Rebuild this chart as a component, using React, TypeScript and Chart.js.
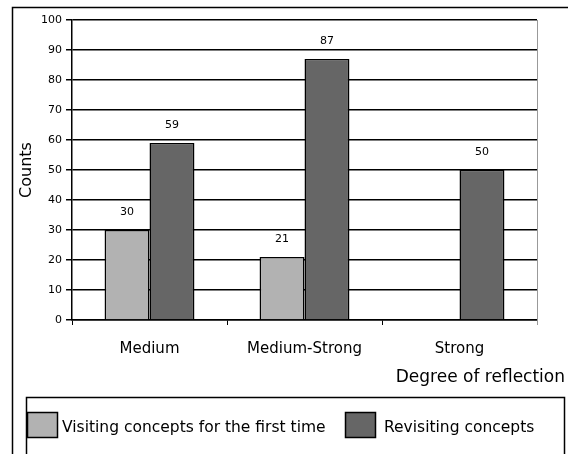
import React, { useEffect, useRef } from "react";
import { Chart, registerables } from "chart.js";

Chart.register(...registerables);

const categories = ["Medium", "Medium-Strong", "Strong"];
const firstTimeValues = [30, 21, null];
const revisitValues = [59, 87, 50];
const seriesLabels = ["Visiting concepts for the first time", "Revisiting concepts"];
const seriesColors = ["#b2b2b2", "#666666"];
const yTitle = "Counts";
const xTitle = "Degree of reflection";
const yMax = 100;
const yStep = 10;

const FONT = "'DejaVu Sans', Arial, sans-serif";

const decorPlugin = {
  id: "decor",
  beforeDraw(chart: any) {
    const ctx = chart.ctx;
    ctx.save();
    ctx.fillStyle = "#ffffff";
    ctx.fillRect(0, 0, chart.width, chart.height);
    // outer frame
    ctx.strokeStyle = "#000000";
    ctx.lineWidth = 1.5;
    ctx.strokeRect(12.5, 7.5, chart.width + 20, chart.height + 20);
    ctx.restore();
  },
  afterDraw(chart: any) {
    const ctx = chart.ctx;
    const area = chart.chartArea;
    ctx.save();
    // right border of plot area
    ctx.strokeStyle = "#999999";
    ctx.lineWidth = 1;
    ctx.beginPath();
    ctx.moveTo(Math.round(area.right) + 0.5, area.top);
    ctx.lineTo(Math.round(area.right) + 0.5, area.bottom + 5);
    ctx.stroke();

    // data labels
    ctx.fillStyle = "#000000";
    ctx.font = `11px ${FONT}`;
    ctx.textAlign = "center";
    ctx.textBaseline = "middle";
    chart.data.datasets.forEach((ds: any, di: number) => {
      const meta = chart.getDatasetMeta(di);
      meta.data.forEach((bar: any, i: number) => {
        const v = ds.data[i];
        if (v === null || v === undefined) return;
        ctx.fillText(String(v), bar.x, bar.y - 18);
      });
    });

    // y title
    ctx.save();
    ctx.font = `16px ${FONT}`;
    ctx.translate(27, 170);
    ctx.rotate(-Math.PI / 2);
    ctx.textAlign = "center";
    ctx.textBaseline = "middle";
    ctx.fillText(yTitle, 0, 0);
    ctx.restore();

    // x title
    ctx.font = `17px ${FONT}`;
    ctx.textAlign = "right";
    ctx.textBaseline = "middle";
    ctx.fillText(xTitle, 565, 378);

    // legend box
    ctx.strokeStyle = "#000000";
    ctx.lineWidth = 1.5;
    ctx.strokeRect(26.5, 397.5, 538, 80);

    // legend items
    const sw = [
      { x: 27, text: 62 },
      { x: 345, text: 384 },
    ];
    chart.data.datasets.forEach((ds: any, di: number) => {
      const p = sw[di];
      ctx.fillStyle = ds.backgroundColor;
      ctx.fillRect(p.x, 412, 31, 25);
      ctx.strokeStyle = "#000000";
      ctx.lineWidth = 1.5;
      ctx.strokeRect(p.x + 0.5, 412.5, 30, 25);
      ctx.fillStyle = "#000000";
      ctx.font = `15.5px ${FONT}`;
      ctx.textAlign = "left";
      ctx.textBaseline = "middle";
      ctx.fillText(ds.label, p.text, 428);
    });
    ctx.restore();
  },
};

export default function App() {
  const ref = useRef<HTMLCanvasElement>(null);
  useEffect(() => {
    if (!ref.current) return;
    const chart = new Chart(ref.current, {
      type: "bar",
      data: {
        labels: categories,
        datasets: [
          {
            label: seriesLabels[0],
            data: firstTimeValues as any,
            backgroundColor: seriesColors[0],
            borderColor: "#000000",
            borderWidth: 1.5,
            categoryPercentage: 0.58,
            barPercentage: 1.0,
          },
          {
            label: seriesLabels[1],
            data: revisitValues,
            backgroundColor: seriesColors[1],
            borderColor: "#000000",
            borderWidth: 1.5,
            categoryPercentage: 0.58,
            barPercentage: 1.0,
          },
        ],
      },
      options: {
        animation: false,
        responsive: false,
        maintainAspectRatio: false,
        layout: { padding: { left: 0, top: 20, right: 31, bottom: 0 } },
        plugins: {
          legend: { display: false },
          tooltip: { enabled: false },
        },
        scales: {
          x: {
            afterFit: (s: any) => {
              s.height = 134;
            },
            grid: {
              display: true,
              offset: true,
              drawOnChartArea: false,
              drawTicks: true,
              tickLength: 5,
              color: "#000000",
            },
            border: { display: true, color: "#000000", width: 1.5 },
            ticks: {
              color: "#000000",
              font: { family: FONT, size: 15 },
              padding: 15,
              maxRotation: 0,
            },
          },
          y: {
            min: 0,
            max: yMax,
            afterFit: (s: any) => {
              s.width = 72;
            },
            grid: {
              color: "#000000",
              lineWidth: 1.5,
              drawTicks: true,
              tickLength: 6,
            },
            border: { display: true, color: "#000000", width: 1.5 },
            ticks: {
              stepSize: yStep,
              color: "#000000",
              font: { family: FONT, size: 11 },
              padding: 4,
            },
          },
        },
      },
      plugins: [decorPlugin],
    });
    return () => chart.destroy();
  }, []);
  return (
    <div style={{ position: "fixed", left: 0, top: 0, width: 568, height: 454 }}>
      <canvas ref={ref} width={568} height={454} style={{ display: "block" }} />
    </div>
  );
}
